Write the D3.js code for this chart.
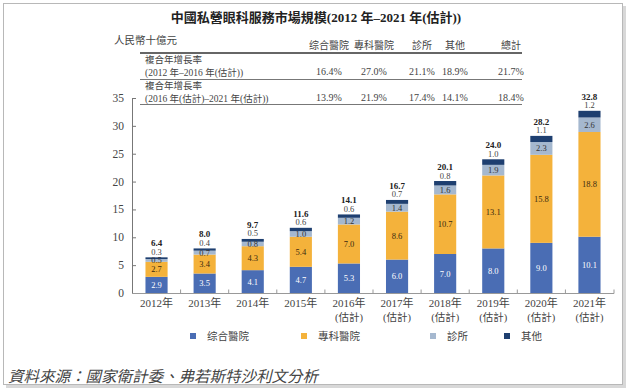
<!DOCTYPE html>
<html>
<head>
<meta charset="utf-8">
<script src="https://cdn.jsdelivr.net/npm/d3@7"></script>
<style>
  html, body { margin: 0; padding: 0; background: #fff; }
  svg text { font-family: "Liberation Serif", "Noto Sans CJK TC", serif; }
</style>
</head>
<body>
<div id="chart"></div>
<script>
// categories
const years = ["2012年", "2013年", "2014年", "2015年", "2016年", "2017年", "2018年", "2019年", "2020年", "2021年"];
const estimated = [false, false, false, false, true, true, true, true, true, true];

// series values (人民幣十億元)
const generalHospital = [2.9, 3.5, 4.1, 4.7, 5.3, 6.0, 7.0, 8.0, 9.0, 10.1];
const specialtyHospital = [2.7, 3.4, 4.3, 5.4, 7.0, 8.6, 10.7, 13.1, 15.8, 18.8];
const clinics = [0.5, 0.7, 0.8, 1.0, 1.2, 1.4, 1.6, 1.9, 2.3, 2.6];
const others = [0.3, 0.4, 0.5, 0.6, 0.6, 0.7, 0.8, 1.0, 1.1, 1.2];
const totals = [6.4, 8.0, 9.7, 11.6, 14.1, 16.7, 20.1, 24.0, 28.2, 32.8];

const seriesNames = ["综合醫院", "專科醫院", "診所", "其他"];
const seriesColors = ["#4a6db4", "#f4b23b", "#a5b8cf", "#1e3f70"];

// CAGR table
const tableHeaders = ["综合醫院", "專科醫院", "診所", "其他", "總計"];
const cagrLabels = [["複合年增長率", "(2012 年–2016 年(估計))"], ["複合年增長率", "(2016 年(估計)–2021 年(估計))"]];
const cagr1 = ["16.4%", "27.0%", "21.1%", "18.9%", "21.7%"];
const cagr2 = ["13.9%", "21.9%", "17.4%", "14.1%", "18.4%"];

const yTicks = [0, 5, 10, 15, 20, 25, 30, 35];

const W = 630, H = 391;
const svg = d3.select("#chart").append("svg")
  .attr("width", W).attr("height", H);

// frame with a little shadow
svg.append("rect").attr("x", 6).attr("y", 6).attr("width", 620).attr("height", 382).attr("fill", "#d8d8d8");
svg.append("rect").attr("x", 3.5).attr("y", 3.5).attr("width", 619).attr("height", 381)
  .attr("fill", "#fff").attr("stroke", "#b8b8b8");

// title
svg.append("text").attr("x", 316).attr("y", 22).attr("text-anchor", "middle")
  .style("font-size", "13px").style("font-weight", "bold").attr("fill", "#222")
  .text("中國私營眼科服務市場規模(2012 年–2021 年(估計))");

svg.append("text").attr("x", 114).attr("y", 44)
  .style("font-size", "10.5px").attr("fill", "#444").text("人民幣十億元");

// table
const colX = [329, 374, 422, 455, 511];
const tableLeft = 140, tableRight = 522;
svg.selectAll(".th").data(tableHeaders).join("text")
  .attr("class", "th").attr("x", (d, i) => colX[i]).attr("y", 49)
  .attr("text-anchor", "middle").style("font-size", "10px").attr("fill", "#444")
  .text(d => d);

svg.append("line").attr("x1", tableLeft).attr("x2", tableRight).attr("y1", 53).attr("y2", 53)
  .attr("stroke", "#666").attr("stroke-width", 1.8);
svg.append("line").attr("x1", tableLeft).attr("x2", tableRight).attr("y1", 79.5).attr("y2", 79.5)
  .attr("stroke", "#777").attr("stroke-width", 1);
svg.append("line").attr("x1", tableLeft).attr("x2", tableRight).attr("y1", 104.5).attr("y2", 104.5)
  .attr("stroke", "#777").attr("stroke-width", 1);

[cagr1, cagr2].forEach((row, r) => {
  const top = 53 + r * 26;
  svg.append("text").attr("x", 145).attr("y", top + 10)
    .style("font-size", "9.5px").attr("fill", "#444").text(cagrLabels[r][0]);
  svg.append("text").attr("x", 145).attr("y", top + 23)
    .style("font-size", "9.5px").attr("fill", "#444").text(cagrLabels[r][1]);
  svg.selectAll(".cagr" + r).data(row).join("text")
    .attr("class", "cagr" + r).attr("x", (d, i) => colX[i]).attr("y", top + 22)
    .attr("text-anchor", "middle").style("font-size", "10px").attr("fill", "#444")
    .text(d => d);
});

// scales
const x = d3.scaleBand().domain(years).range([132, 614]).paddingInner(0.54).paddingOuter(0.28);
const y = d3.scaleLinear().domain([0, 35]).range([293, 98]);

// axes
const yAxis = svg.append("g").attr("transform", "translate(132,0)")
  .call(d3.axisRight(y).tickValues(yTicks).tickSize(4).tickFormat(""));
yAxis.select(".domain").attr("stroke", "#777");
yAxis.selectAll(".tick line").attr("stroke", "#777");
svg.selectAll(".ylab").data(yTicks).join("text")
  .attr("class", "ylab").attr("x", 124).attr("y", d => y(d) + 4)
  .attr("text-anchor", "end").style("font-size", "11.5px").attr("fill", "#444")
  .text(d => d);

const bounds = years.slice(1).map((d) => x(d) - x.step() * x.paddingInner() / 2);
svg.append("line").attr("x1", 132).attr("x2", 614).attr("y1", 293.5).attr("y2", 293.5)
  .attr("stroke", "#999");
svg.selectAll(".xtick").data(bounds.concat([614])).join("line")
  .attr("class", "xtick").attr("x1", d => d).attr("x2", d => d)
  .attr("y1", 293.5).attr("y2", 289.5).attr("stroke", "#999");

svg.selectAll(".xlab").data(years).join("text")
  .attr("class", "xlab").attr("x", d => x(d) + x.bandwidth() / 2).attr("y", 307)
  .attr("text-anchor", "middle").style("font-size", "11px").attr("fill", "#444")
  .text(d => d);
svg.selectAll(".xest").data(years.filter((d, i) => estimated[i])).join("text")
  .attr("class", "xest").attr("x", d => x(d) + x.bandwidth() / 2).attr("y", 321)
  .attr("text-anchor", "middle").style("font-size", "10.5px").attr("fill", "#444")
  .text("(估計)");

// stacked bars
const table = years.map((yr, i) => ({
  year: yr, s0: generalHospital[i], s1: specialtyHospital[i], s2: clinics[i], s3: others[i], total: totals[i]
}));
const keys = ["s0", "s1", "s2", "s3"];
const stacked = d3.stack().keys(keys)(table);

const layers = svg.selectAll(".layer").data(stacked).join("g")
  .attr("class", "layer").attr("fill", (d, i) => seriesColors[i]);
layers.selectAll("rect").data(d => d).join("rect")
  .attr("x", d => x(d.data.year))
  .attr("width", x.bandwidth())
  .attr("y", d => y(d[1]))
  .attr("height", d => y(d[0]) - y(d[1]));

// value labels inside segments
const labelColors = ["#fff", "#3a2a10", "#333"];
stacked.slice(0, 3).forEach((layer, k) => {
  svg.selectAll(".vl" + k).data(layer).join("text")
    .attr("class", "vl" + k)
    .attr("x", d => x(d.data.year) + x.bandwidth() / 2)
    .attr("y", d => (y(d[0]) + y(d[1])) / 2 + 3)
    .attr("text-anchor", "middle").style("font-size", "8.5px")
    .attr("fill", labelColors[k])
    .text(d => d.data[keys[k]].toFixed(1));
});

// "其他" value above the bar, then total in bold
const topLayer = stacked[3];
svg.selectAll(".ol").data(topLayer).join("text")
  .attr("class", "ol")
  .attr("x", d => x(d.data.year) + x.bandwidth() / 2)
  .attr("y", d => y(d[1]) - 2.5)
  .attr("text-anchor", "middle").style("font-size", "8.5px").attr("fill", "#444")
  .text(d => d.data.s3.toFixed(1));
svg.selectAll(".tl").data(topLayer).join("text")
  .attr("class", "tl")
  .attr("x", d => x(d.data.year) + x.bandwidth() / 2)
  .attr("y", d => y(d[1]) - 11)
  .attr("text-anchor", "middle").style("font-size", "9px").style("font-weight", "bold").attr("fill", "#222")
  .text(d => d.data.total.toFixed(1));

// legend
const legendX = [190, 301, 430, 504];
const legend = svg.selectAll(".lg").data(seriesNames).join("g")
  .attr("class", "lg").attr("transform", (d, i) => `translate(${legendX[i]},336)`);
legend.append("rect").attr("x", 0).attr("y", -3).attr("width", 6).attr("height", 6)
  .attr("fill", (d, i) => seriesColors[i]);
legend.append("text").attr("x", 17).attr("y", 4)
  .style("font-size", "10.5px").attr("fill", "#444").text(d => d);

// source
svg.append("text").attr("x", 8).attr("y", 382)
  .style("font-size", "15.5px").style("font-style", "italic").attr("fill", "#444")
  .text("資料來源：國家衛計委、弗若斯特沙利文分析");
</script>
</body>
</html>
